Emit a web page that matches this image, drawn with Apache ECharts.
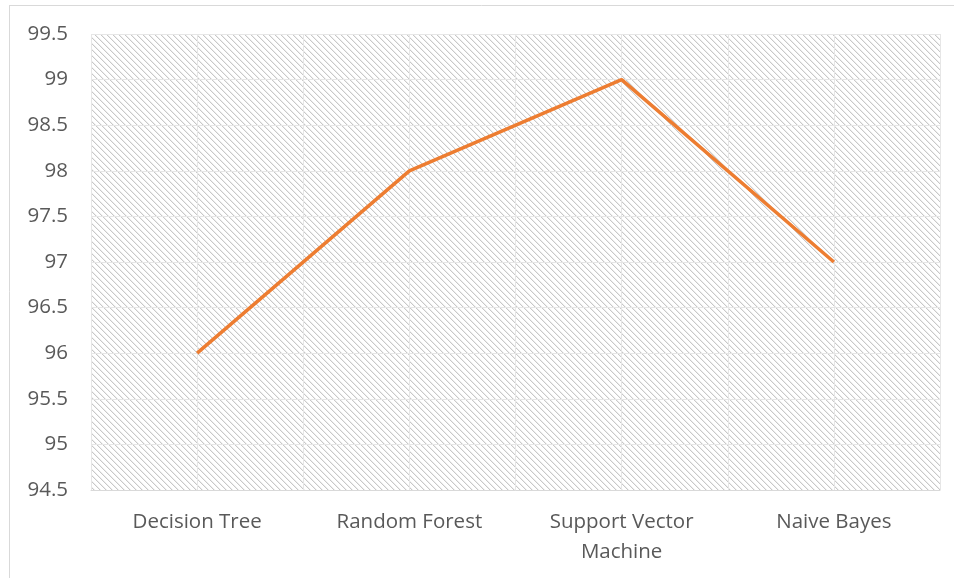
<!DOCTYPE html>
<html>
<head>
<meta charset="utf-8">
<script src="https://cdn.jsdelivr.net/npm/echarts@6/dist/echarts.min.js"></script>
<style>
html,body{margin:0;padding:0;background:#fff;}
#c{width:954px;height:578px;}
</style>
</head>
<body>
<div id="c"></div>
<script>
const categories = ['Decision Tree', 'Random Forest', 'Support Vector\nMachine', 'Naive Bayes'];
const accuracy = [96, 98, 99, 97];
const yMin = 94.5, yMax = 99.5, yStep = 0.5;
const halfSlots = ['', '', '', '', '', '', '', ''];

// hatch pattern
const P = 12;
const pc = document.createElement('canvas');
pc.width = P; pc.height = P;
const pctx = pc.getContext('2d');
const img = pctx.createImageData(P, P);
for (let y = 0; y < P; y++) {
  for (let x = 0; x < P; x++) {
    const i = (y * P + x) * 4;
    const d = ((x - y) % 6 + 6) % 6;
    const v = d === 0 ? 200 : (d === 1 ? 238 : 255);
    img.data[i] = v; img.data[i+1] = v; img.data[i+2] = v; img.data[i+3] = 255;
  }
}
pctx.putImageData(img, 0, 0);

const chart = echarts.init(document.getElementById('c'), null, {renderer: 'canvas'});
const font = '"Open Sans", "Noto Sans", sans-serif';
chart.setOption({
  animation: false,
  backgroundColor: '#fff',
  grid: {
    left: 91, right: 14, top: 34, bottom: 88,
    show: true, borderWidth: 0,
    backgroundColor: {image: pc, repeat: 'repeat'}
  },
  graphic: [
    {type: 'line', shape: {x1: 9.5, y1: 5, x2: 9.5, y2: 578}, style: {stroke: '#d9d9d9', lineWidth: 1}},
    {type: 'line', shape: {x1: 9, y1: 5.5, x2: 954, y2: 5.5}, style: {stroke: '#d9d9d9', lineWidth: 1}}
  ],
  xAxis: [{
    type: 'category',
    data: categories,
    boundaryGap: true,
    axisLine: {show: true, lineStyle: {color: '#d9d9d9', width: 1}},
    axisTick: {show: false},
    splitLine: {show: false},
    axisLabel: {color: '#595959', fontSize: 20.5, fontFamily: font, margin: 17, lineHeight: 30, interval: 0}
  }, {
    type: 'category',
    data: halfSlots,
    position: 'bottom',
    boundaryGap: true,
    axisLine: {show: false},
    axisTick: {show: false},
    axisLabel: {show: false},
    splitLine: {show: true, lineStyle: {color: '#e6e6e6', width: 1}}
  }],
  yAxis: {
    type: 'value',
    min: yMin, max: yMax, interval: yStep,
    axisLine: {show: false},
    axisTick: {show: false},
    splitLine: {show: true, lineStyle: {color: '#e6e6e6', width: 1}},
    axisLabel: {color: '#595959', fontSize: 20.5, fontFamily: font, margin: 23,
      formatter: v => String(Math.round(v * 10) / 10)}
  },
  series: [{
    type: 'line',
    data: accuracy,
    xAxisIndex: 0,
    symbol: 'none',
    lineStyle: {color: '#ED7D31', width: 3.5},
    z: 5
  }]
});
</script>
</body>
</html>
